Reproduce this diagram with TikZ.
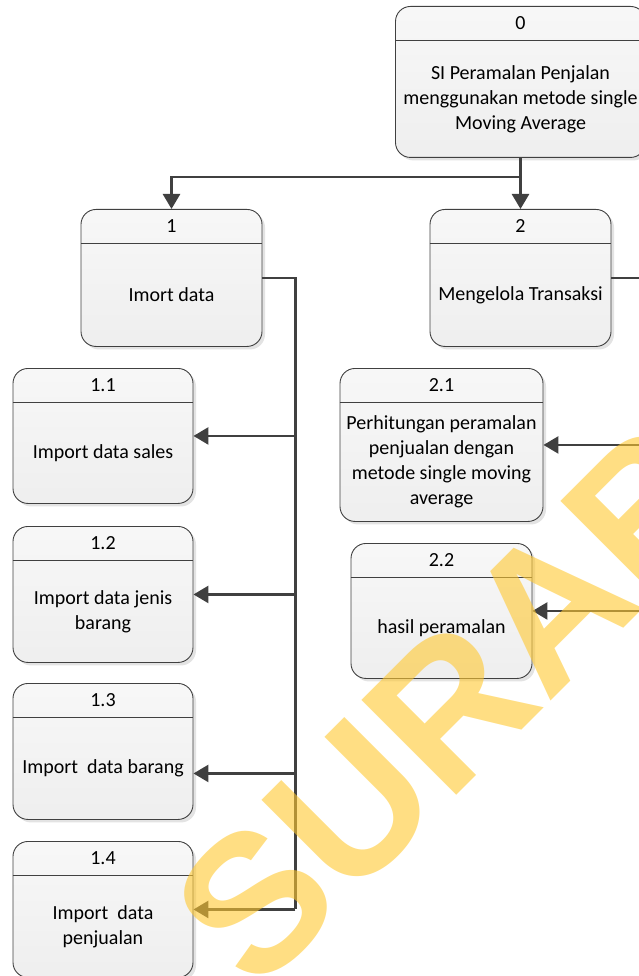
\documentclass[tikz,border=0pt]{standalone}
\usepackage{fontspec}
\setmainfont{Carlito}
\newfontfamily\wmfont{Liberation Sans}
\usetikzlibrary{arrows.meta,calc,shadows}

\definecolor{linegray}{HTML}{404040}
\definecolor{wmyellow}{HTML}{FFC830}

\tikzset{
  procbox/.style={draw=linegray, line width=0.9pt, rounded corners=15pt,
    top color=gray!6, middle color=white, bottom color=gray!13,
    drop shadow={shadow xshift=3pt, shadow yshift=-3pt, fill=gray!22, opacity=1}},
  boxline/.style={draw=linegray, line width=0.9pt},
  proctext/.style={align=center, inner sep=0pt, font=\fontsize{20}{25}\selectfont},
  wire/.style={draw=linegray, line width=2.6pt},
  flow/.style={wire, -{Triangle[length=15pt,width=17pt]}},
  wmark/.style={inner sep=0pt, text=wmyellow, text opacity=0.6,
    font=\wmfont\bfseries\fontsize{195}{195}\selectfont}
}

\begin{document}
\begin{tikzpicture}[x=1pt,y=-1pt]
\useasboundingbox (0,0) rectangle (639,976);
\clip (0,0) rectangle (639,976);

% Draw process boxes
\foreach \name/\x/\y/\w/\h/\num/\txt in {
  b0/520.5/6/250/151/0/{SI Peramalan Penjalan\\menggunakan metode single\\Moving Average},
  b1/171.5/209/181/137/1/{Imort data},
  b2/520.5/209/181/137/2/{Mengelola Transaksi},
  b11/103/368/180/135/1.1/{Import data sales},
  b12/103/526/180/136/1.2/{Import data jenis\\barang},
  b13/103/683/180/136/1.3/{Import~ data barang},
  b14/103/841/180/136/1.4/{Import~ data\\penjualan},
  b21/441.5/368/203/153/2.1/{Perhitungan peramalan\\penjualan dengan\\metode single moving\\average},
  b22/441.5/543/181/135/2.2/{hasil peramalan}}
{
  \node[procbox, minimum width=\w pt, minimum height=\h pt, anchor=north] (\name) at (\x,\y) {};
  \draw[boxline] ([yshift=-34pt]\name.north west) -- ([yshift=-34pt]\name.north east);
  \node[proctext] (\name-num) at ([yshift=-17pt]\name.north) {\num};
  \node[proctext] (\name-txt) at ($(\name.south)!.5!([yshift=-34pt]\name.north)$) {\txt};
}

% Top level flows
\draw[flow] (b0.south) -- ++(0,19) -| (b1.north);
\draw[flow] (b0.south) -- (b2.north);

% Flows out of 1
\coordinate (bus1) at ($(b1.east)+(33,0)$);
\coordinate (in13) at ([yshift=-22pt]b13.east);
\draw[wire] (b1.east) -| (bus1 |- b14.east);
\foreach \b in {b11.east,b12.east,in13,b14.east}
  \draw[flow] (bus1 |- \b) -- (\b);

% Flows out of 2
\coordinate (bus2) at ($(b2.east)+(40,0)$);
\draw[wire] (b2.east) -| (bus2 |- b22.east);
\foreach \b in {b21,b22}
  \draw[flow] (bus2 |- \b.east) -- (\b.east);

% Watermark
\node[wmark, rotate=45, anchor=base west] (wm) at (256,996) {SURABAYA};
\end{tikzpicture}
\end{document}
